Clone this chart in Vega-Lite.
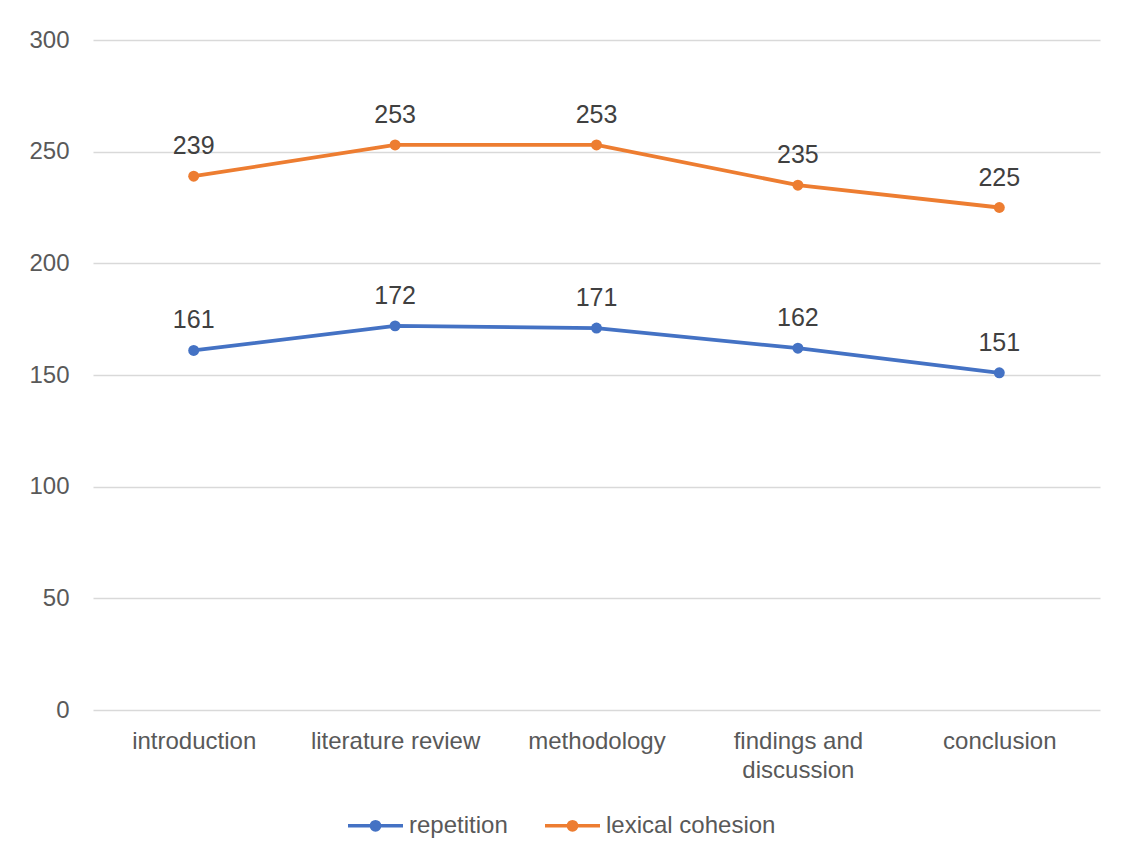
{
  "$schema": "https://vega.github.io/schema/vega-lite/v6.json",
  "width": 1007,
  "height": 670,
  "autosize": {"type": "none"},
  "padding": {"left": 93, "top": 40, "right": 25, "bottom": 147},
  "background": "white",
  "config": {
    "font": "Liberation Sans",
    "view": {"stroke": null},
    "axis": {"labelFont": "Liberation Sans", "labelColor": "#595959"}
  },
  "data": {
    "values": [
      {"section": "introduction", "series": "repetition", "value": 161},
      {"section": "literature review", "series": "repetition", "value": 172},
      {"section": "methodology", "series": "repetition", "value": 171},
      {"section": "findings and discussion", "series": "repetition", "value": 162},
      {"section": "conclusion", "series": "repetition", "value": 151},
      {"section": "introduction", "series": "lexical cohesion", "value": 239},
      {"section": "literature review", "series": "lexical cohesion", "value": 253},
      {"section": "methodology", "series": "lexical cohesion", "value": 253},
      {"section": "findings and discussion", "series": "lexical cohesion", "value": 235},
      {"section": "conclusion", "series": "lexical cohesion", "value": 225}
    ]
  },
  "encoding": {
    "x": {
      "field": "section", "type": "nominal", "sort": null,
      "axis": {
        "title": null, "labelAngle": 0, "ticks": false, "domain": false,
        "labelFontSize": 24, "labelPadding": 31, "labelBaseline": "middle",
        "labelExpr": "datum.value == 'findings and discussion' ? ['findings and', 'discussion'] : datum.value",
        "labelLineHeight": 29
      }
    },
    "y": {
      "field": "value", "type": "quantitative",
      "scale": {"domain": [0, 300], "nice": false},
      "axis": {
        "title": null, "values": [0, 50, 100, 150, 200, 250, 300], "ticks": false, "domain": false,
        "labelFontSize": 24, "labelPadding": 24, "gridColor": "#d9d9d9", "gridWidth": 1.5
      }
    },
    "color": {
      "field": "series", "type": "nominal",
      "scale": {"domain": ["repetition", "lexical cohesion"], "range": ["#4472C4", "#ED7D31"]},
      "legend": {
        "orient": "none", "legendX": 253, "legendY": 756, "title": null, "direction": "horizontal",
        "labelFontSize": 24, "labelColor": "#595959", "labelLimit": 400,
        "symbolType": "M-1,0L-0.15,0M0.15,0L1,0M0.15,0A0.15,0.15 0 1,1 -0.15,0A0.15,0.15 0 1,1 0.15,0",
        "symbolSize": 3025, "symbolStrokeWidth": 3.5, "columnPadding": 30, "labelOffset": 4
      }
    }
  },
  "layer": [
    {"mark": {"type": "line", "strokeWidth": 3.8}},
    {"mark": {"type": "point", "filled": true, "size": 120, "opacity": 1}},
    {
      "mark": {"type": "text", "dy": -30, "fontSize": 25, "font": "Liberation Sans"},
      "encoding": {"text": {"field": "value", "type": "quantitative"}, "color": {"value": "#404040"}}
    }
  ]
}
